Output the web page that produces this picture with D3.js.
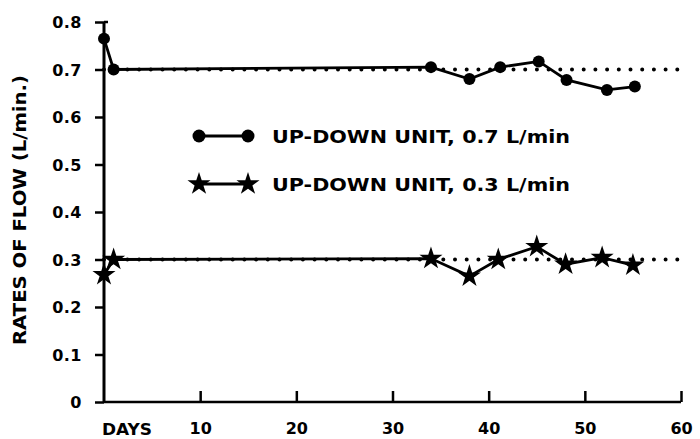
<!DOCTYPE html>
<html><head><meta charset="utf-8">
<script src="https://cdn.jsdelivr.net/npm/d3@7"></script>
<style>body{margin:0;background:#fff}svg{display:block}text{font-family:"DejaVu Sans",sans-serif;font-weight:bold;fill:#000}</style>
</head><body>
<svg id="c" width="700" height="439"></svg>
<script>
const yTicks = [0, 0.1, 0.2, 0.3, 0.4, 0.5, 0.6, 0.7, 0.8];
const yTickLabels = ["0", "0.1", "0.2", "0.3", "0.4", "0.5", "0.6", "0.7", "0.8"];
const xTicks = [10, 20, 30, 40, 50, 60];
const xFirstLabel = "DAYS";
const yTitle = "RATES OF FLOW (L/min.)";
const series07Days = [0, 1, 34, 38, 41.2, 45.2, 48.1, 52.3, 55.2];
const series07Values = [0.765, 0.70, 0.705, 0.68, 0.705, 0.717, 0.678, 0.657, 0.664];
const series03Days = [0, 1, 34, 38, 41, 45, 48, 51.8, 55];
const series03Values = [0.268, 0.30, 0.302, 0.265, 0.30, 0.327, 0.29, 0.304, 0.288];
const targetLevels = [0.7, 0.3];
const legendLabels = ["UP-DOWN UNIT, 0.7 L/min", "UP-DOWN UNIT, 0.3 L/min"];

const svg = d3.select("#c");
const x = d3.scaleLinear().domain([0, 60]).range([104, 681]);
const y = d3.scaleLinear().domain([0, 0.8]).range([402, 22]);
const FONT = "DejaVu Sans";

// target dotted lines
svg.selectAll("line.target").data(targetLevels).join("line")
  .attr("x1", x(0)).attr("x2", x(60.3))
  .attr("y1", d => y(d)).attr("y2", d => y(d))
  .attr("stroke", "#000").attr("stroke-width", 4).attr("stroke-linecap", "round")
  .attr("stroke-dasharray", "0,11.7");

// axes
const yAxis = d3.axisLeft(y).tickValues(yTicks).tickSize(9).tickPadding(13)
  .tickFormat((d, i) => yTickLabels[i]);
const gy = svg.append("g").attr("transform", `translate(${x(0)},0)`).call(yAxis);
gy.select(".domain").attr("d", `M0,${y(0)}V${y(0.8)}`).attr("stroke-width", 3);
gy.selectAll(".tick line").attr("stroke-width", 2.5);
gy.selectAll(".tick text").attr("font-size", 16).attr("font-family", FONT)
  .attr("font-weight", "bold").attr("letter-spacing", 0.5).attr("dy", "0.36em");
gy.append("line").attr("x1", 0).attr("x2", 4).attr("y1", y(0.8)).attr("y2", y(0.8))
  .attr("stroke", "#000").attr("stroke-width", 2.5);

const xAxis = d3.axisBottom(x).tickValues(xTicks).tickSize(-11).tickPadding(30)
  .tickFormat(d3.format("d"));
const gx = svg.append("g").attr("transform", `translate(0,${y(0)})`).call(xAxis);
gx.select(".domain").attr("d", `M${x(0)},0H${x(60)}`).attr("stroke-width", 2.5);
gx.selectAll(".tick line").attr("stroke-width", 2.5);
gx.selectAll(".tick text").attr("font-size", 16).attr("font-family", FONT)
  .attr("font-weight", "bold").attr("dy", "0.1em");
svg.append("text").attr("x", x(0) - 2).attr("y", 435).attr("font-size", 16)
  .attr("textLength", 50).attr("lengthAdjust", "spacingAndGlyphs").text(xFirstLabel);

// y title
svg.append("text").attr("transform", "translate(26,210) rotate(-90)")
  .attr("text-anchor", "middle").attr("font-size", 17)
  .attr("textLength", 270).attr("lengthAdjust", "spacingAndGlyphs").text(yTitle);

// series
const line = d3.line().x(d => x(d[0])).y(d => y(d[1]));
const s07 = series07Days.map((d, i) => [d, series07Values[i]]);
const s03 = series03Days.map((d, i) => [d, series03Values[i]]);
svg.append("path").attr("d", line(s07)).attr("fill", "none").attr("stroke", "#000").attr("stroke-width", 2.8);
svg.append("path").attr("d", line(s03)).attr("fill", "none").attr("stroke", "#000").attr("stroke-width", 2.8);
svg.selectAll("circle.p").data(s07).join("circle")
  .attr("cx", d => x(d[0])).attr("cy", d => y(d[1])).attr("r", 6).attr("fill", "#000");
const star = d3.symbol().type(d3.symbolStar).size(165);
svg.selectAll("path.s").data(s03).join("path").attr("class", "s")
  .attr("transform", d => `translate(${x(d[0])},${y(d[1])})`).attr("d", star).attr("fill", "#000");

// legend
const legY = [136, 184];
const lg = svg.append("g");
legY.forEach((ly, i) => {
  lg.append("line").attr("x1", 199).attr("x2", 248).attr("y1", ly).attr("y2", ly)
    .attr("stroke", "#000").attr("stroke-width", 2.8);
  [199, 248].forEach(px => {
    if (i === 0) lg.append("circle").attr("cx", px).attr("cy", ly).attr("r", 6.5);
    else lg.append("path").attr("transform", `translate(${px},${ly})`).attr("d", star);
  });
  lg.append("text").attr("x", 272).attr("y", ly + 7).attr("font-size", 17)
    .attr("textLength", 298).attr("lengthAdjust", "spacingAndGlyphs").text(legendLabels[i]);
});
</script>
</body></html>
